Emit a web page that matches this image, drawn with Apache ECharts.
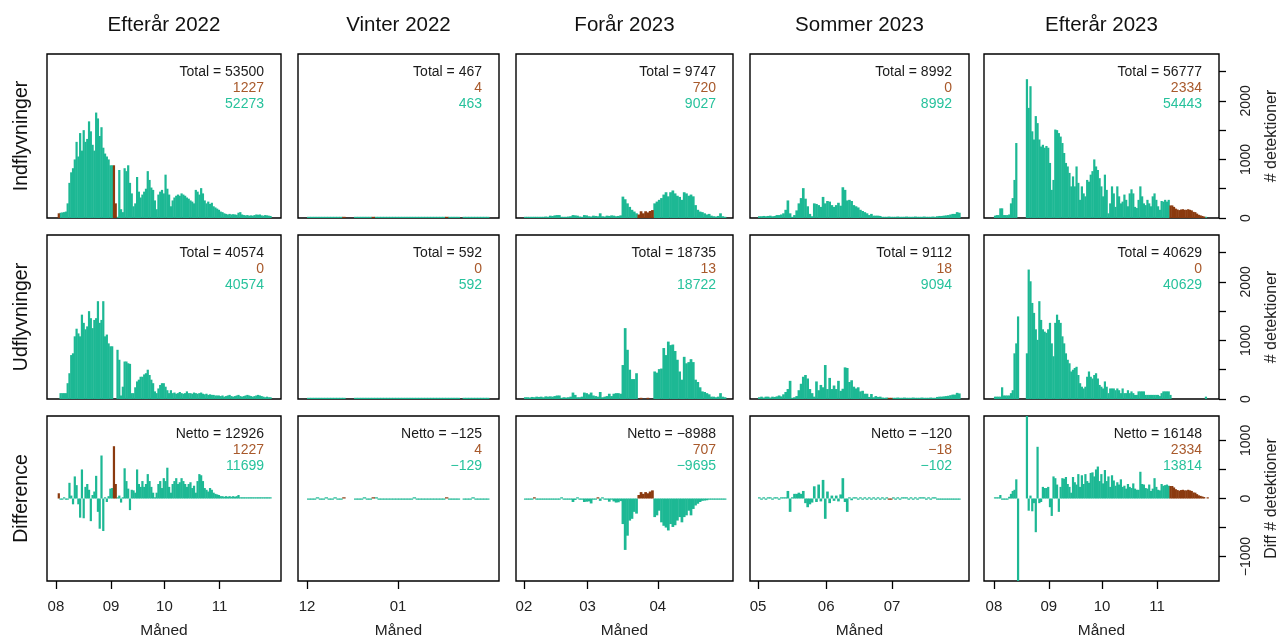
<!DOCTYPE html>
<html><head><meta charset="utf-8">
<script src="https://cdn.jsdelivr.net/npm/echarts@6/dist/echarts.min.js"></script>
<style>html,body{margin:0;padding:0;background:#fff}#c{width:1277px;height:639px}</style>
</head><body><div id="c"></div>
<script>
// ---------------- DATA ----------------
const colTitles = ['Efterår 2022','Vinter 2022','Forår 2023','Sommer 2023','Efterår 2023'];
const rowTitles = ['Indflyvninger','Udflyvninger','Difference'];
const monthTicks = [[0,31,61,92],[0,31],[0,28,59],[0,31,61],[0,31,61,92]];
const monthLabels = [['08','09','10','11'],['12','01'],['02','03','04'],['05','06','07'],['08','09','10','11']];
const countTicks = [0,500,1000,1500,2000,2500];
const countLabels = [0,1000,2000];
const diffTicks = [-1000,-500,0,500,1000];
const diffLabels = [-1000,0,1000];

const totalIn  = [53500, 467, 9747, 8992, 56777];
const brownIn  = [1227, 4, 720, 0, 2334];
const tealIn   = [52273, 463, 9027, 8992, 54443];
const totalOut = [40574, 592, 18735, 9112, 40629];
const brownOut = [0, 0, 13, 18, 0];
const tealOut  = [40574, 592, 18722, 9094, 40629];
const netto    = [12926, -125, -8988, -120, 16148];
const brownNet = [1227, 4, 707, -18, 2334];
const tealNet  = [11699, -129, -9695, -102, 13814];

// Panel 1: Efterår 2022 (1 Aug - 30 Nov), daily
const in1 = [null,null,90,95,100,110,250,600,780,850,
1000,1300,1050,1450,1150,1500,1300,1350,1650,1480,
1250,1150,1800,1700,1400,1550,1200,1100,1050,1000,
900,900,null,null,0,820,150,100,850,800,
900,600,420,200,250,700,450,350,400,450,
500,800,650,520,480,300,150,400,450,480,
420,740,500,400,200,300,350,380,400,380,
420,400,380,350,330,300,280,250,480,450,
400,510,420,300,250,280,240,260,200,180,
160,140,110,100,80,70,60,70,60,65,
60,55,90,100,60,50,45,50,40,45,
40,50,60,55,60,45,40,50,45,40,
35,null];
const in1b = [[1,80],[32,900],[33,250]];
const out1 = [null,null,100,100,100,100,270,440,750,780,
1070,1200,1120,1070,1440,1300,1190,1240,1500,1380,
1210,1350,1380,1670,1300,1350,1670,1070,1100,950,
900,900,null,null,840,670,60,210,640,640,
610,600,100,100,200,300,330,380,380,420,
440,500,410,330,270,130,100,180,240,270,
270,210,150,100,150,100,110,90,100,120,
100,90,100,130,100,100,90,110,100,90,
100,110,90,80,90,70,80,70,70,60,
60,60,50,60,40,50,60,70,50,40,
50,60,70,50,40,50,60,70,60,50,
40,50,60,70,60,50,40,30,40,30,
30,null];
const out1b = [];
const diff1 = [null,null,-10,-20,0,-10,-20,270,50,-100,
380,230,-100,-330,500,-340,200,250,150,-390,
60,120,390,-230,-520,740,-560,10,-60,40,
170,180,null,null,0,50,-70,20,520,300,
170,-200,150,140,100,500,250,200,300,200,
250,420,300,200,100,20,100,250,300,180,
350,300,530,200,100,250,300,350,250,280,
350,300,250,200,250,280,180,220,100,300,
420,400,300,180,150,120,180,150,100,80,
70,60,40,40,30,40,30,40,30,40,
30,40,60,20,20,10,20,10,20,10,
20,10,20,10,20,10,20,10,20,10,
10,null];
const diff1b = [[1,90],[32,900],[33,250]];

// Panel 2: Vinter 2022 (1 Dec - 31 Jan)
const in2 = [10,8,12,15,6,9,20,7,5,14,
10,8,null,null,null,null,9,12,7,15,
10,6,null,11,13,9,7,10,14,8,
6,9,12,10,7,5,8,11,9,6,
10,13,8,7,9,12,6,null,10,7,
9,11,null,8,6,9,12,7,10,8,
6,9];
const in2b = [[12,1],[22,2],[47,1]];
const out2 = [12,10,14,9,8,15,11,13,9,7,
16,10,12,null,null,null,11,14,9,13,
12,8,10,9,15,11,8,12,16,10,
9,12,13,11,10,8,9,14,10,8,
12,15,10,9,11,13,8,10,12,9,
10,13,null,10,8,11,14,9,12,10,
8,11];
const out2b = [];
const diff2 = [-2,-2,-2,6,-2,-6,9,-6,-4,7,
-6,-2,null,null,null,null,-2,-2,-2,2,
-2,-2,null,2,-2,-2,-1,-2,-2,-2,
-3,-3,-1,-1,-3,-3,0,-3,-1,-2,
-2,-2,-2,-2,-2,-1,-2,null,-2,-2,
-1,-2,null,-2,-2,-2,2,-2,-2,-2,
-2,-2];
const diff2b = [[12,1],[22,2],[47,1]];

// Panel 3: Forår 2023 (1 Feb - 30 Apr)
const in3 = [15,10,20,15,10,20,15,20,10,25,
20,40,35,45,50,50,20,15,20,25,
30,50,45,40,25,20,50,45,30,25,
40,35,30,80,30,25,40,35,45,40,
30,35,45,365,320,250,190,140,110,80,
null,null,null,null,null,null,null,250,280,310,
340,400,440,370,440,470,420,380,360,310,
440,420,380,400,370,220,140,110,100,80,
60,70,40,30,25,35,80,30,20];
const in3b = [[50,60],[51,115],[52,80],[53,115],[54,95],[55,120],[56,135]];
const out3 = [30,30,25,35,30,40,35,40,30,45,
40,45,40,50,60,60,20,30,25,30,
40,110,70,30,30,40,110,100,80,110,
60,50,40,120,30,40,50,90,50,90,
100,100,90,580,1210,840,500,340,340,440,
null,null,null,null,null,null,null,470,450,510,
520,870,750,980,920,930,820,670,470,330,
720,610,630,680,630,330,290,200,130,120,
100,80,40,40,30,40,100,40,30];
const out3b = [[51,6],[54,7]];
const diff3 = [-15,-20,-5,-20,null,-20,-20,-20,-20,-20,
-20,-5,-5,-5,-10,-10,0,-15,-5,-5,
-10,-60,-25,10,-5,-20,-60,-55,-50,-85,
-20,-15,null,-40,0,-15,-10,-55,-5,-50,
-70,-65,-45,-440,-885,-640,-380,-350,-230,-260,
null,null,null,null,null,null,null,-320,-290,-210,
-410,-470,-500,-550,-440,-490,-460,-380,-320,-410,
-320,-290,-210,-290,-180,-120,-90,-60,-40,-35,
-30,-20,-10,-10,-5,-10,-20,-10,-5];
const diff3b = [[4,5],[32,5],[50,60],[51,110],[52,80],[53,110],[54,90],[55,120],[56,140]];

// Panel 4: Sommer 2023 (1 May - 31 Jul)
const in4 = [30,30,35,30,35,40,30,35,50,50,
60,80,140,300,80,20,50,130,250,340,
510,330,200,70,30,250,240,220,190,360,
250,290,280,220,190,220,260,210,525,480,
300,310,290,220,200,180,140,120,100,80,
50,70,40,40,40,35,20,15,20,25,
20,15,20,25,20,15,20,25,20,15,
20,25,20,15,20,25,20,15,20,25,
20,30,35,35,40,45,50,60,70,70,
100,90];
const in4b = [];
const out4 = [30,40,25,40,40,25,40,35,45,60,
45,80,120,170,310,20,30,50,150,260,
380,410,350,170,100,40,300,150,240,200,
580,170,360,170,230,170,310,140,175,540,
530,290,320,210,180,200,130,140,90,90,
35,85,30,50,35,40,25,20,25,null,
null,20,20,25,20,20,25,20,15,20,
25,20,15,20,25,20,15,20,25,20,
20,35,40,40,45,50,55,65,75,75,
105,95];
const out4b = [[59,9],[60,9]];
const diff4 = [0,-5,5,-5,0,5,-5,0,5,-10,
5,0,20,130,-230,0,80,80,100,80,
130,-80,-150,-100,-70,210,-60,240,-50,320,
-350,120,-80,50,-40,50,-50,70,350,-60,
-230,20,-30,10,20,-20,10,-20,10,-10,
15,-15,10,-10,5,-5,10,-5,0,null,
null,5,-5,5,-5,5,0,5,-5,5,
-5,5,-5,5,0,5,-5,5,-5,5,
0,-5,-5,-5,-5,-5,-5,-5,-5,-5,
-5,-5];
const diff4b = [[59,-9],[60,-9]];

// Panel 5: Efterår 2023 (1 Aug - 30 Nov)
const in5 = [40,50,50,165,165,50,50,50,60,250,
340,650,1280,null,null,null,null,null,2370,1880,
2250,1480,1340,1740,1620,1340,1220,1250,1200,1230,
1200,940,480,650,1510,1500,1450,1390,1280,1110,
940,880,770,540,710,540,880,600,310,540,
420,370,650,620,740,800,1000,880,820,680,
540,370,740,480,80,250,540,420,190,540,
370,250,280,400,310,200,420,490,420,190,
170,310,540,370,250,220,310,250,200,370,
420,310,200,140,290,280,310,280,310,null,
null,null,null,null,null,null,null,null,null,null,
null,null,null,null,null,null,null,null,null,20,
null,null];
const in5b = [[99,215],[100,215],[101,190],[102,160],[103,145],[104,135],[105,145],[106,150],[107,140],[108,140],
[109,150],[110,140],[111,130],[112,105],[113,100],[114,75],[115,55],[116,45],[117,35],[118,25]];
const out5 = [40,40,40,40,200,60,60,60,60,100,
150,780,950,1410,null,null,null,null,780,2210,
2010,1640,1470,1190,1010,1670,1350,1190,1150,1130,
1190,1300,950,730,1300,1440,1350,1300,1070,950,
780,670,610,470,500,530,550,410,270,210,
180,210,380,470,380,350,410,440,350,240,
210,180,300,210,100,180,180,180,150,180,
150,100,180,100,100,150,100,130,100,70,
70,130,130,130,130,70,70,70,70,70,
70,70,70,50,100,130,130,130,130,70,
null,null,null,null,null,null,null,null,null,null,
null,null,null,null,null,null,null,null,null,40,
null,null];
const out5b = [];
const diff5 = [0,0,0,60,-20,-20,-20,-10,30,80,
130,150,330,-1600,null,null,null,null,1600,-210,
50,-220,-80,-580,890,-80,-60,200,180,180,
200,-150,-300,380,350,240,-230,200,350,340,
370,250,200,100,370,280,240,420,200,400,
250,420,300,270,440,450,380,500,550,300,
420,260,490,300,380,200,400,310,220,280,
240,330,200,220,170,250,200,180,260,170,
150,150,460,250,240,180,170,240,130,170,
350,200,150,140,250,220,230,240,220,null,
null,null,null,null,null,null,null,null,null,null,
null,null,null,null,null,null,null,null,null,null,
null,null];
const diff5b = [[99,215],[100,215],[101,190],[102,160],[103,145],[104,135],[105,145],[106,150],[107,140],[108,140],
[109,150],[110,140],[111,130],[112,105],[113,100],[114,75],[115,55],[116,45],[117,35],[118,25],[120,20]];

// ---------------- LAYOUT / STYLE ----------------
const colLeft  = [47, 298, 516, 750, 984];
const colRight = [281, 499, 733, 969, 1219];
const xMin = [-5, -3.07, -3.5, -3.64, -5.6];
const xMax = [126.5, 65.4, 92.1, 96.0, 127];
const rowTop = [54, 235, 416];
const rowBottom = [218, 399, 581];
const yMin = [0, 0, -1420];
const yMax = [2800, 2800, 1420];

const TEAL = '#1DB894', BROWN = '#8B3A0F';
const TEAL_T = '#27C29C', BROWN_T = '#A8592B', DARK = '#1a1a1a';
const FONT = "'Liberation Sans', Arial, Helvetica, sans-serif";

const panelData = [
  [[in1,in1b],[out1,out1b],[diff1,diff1b]],
  [[in2,in2b],[out2,out2b],[diff2,diff2b]],
  [[in3,in3b],[out3,out3b],[diff3,diff3b]],
  [[in4,in4b],[out4,out4b],[diff4,diff4b]],
  [[in5,in5b],[out5,out5b],[diff5,diff5b]]
];
const rowTexts = [
  [totalIn, brownIn, tealIn, 'Total = '],
  [totalOut, brownOut, tealOut, 'Total = '],
  [netto, brownNet, tealNet, 'Netto = ']
];

function fmt(v){ return v < 0 ? '\u2212' + Math.abs(v) : String(v); }
function toPairs(arr){ const r=[]; arr.forEach((v,i)=>{ if(v!==null && v!==undefined) r.push([i,v]); }); return r; }

function makeRender(color){
  return function(params, api){
    const d = api.value(0), v = api.value(1);
    const cs = params.coordSys;
    const a = api.coord([d, 0]);
    const b = api.coord([d + 1, v]);
    let y0 = a[1];
    let y1 = Math.max(cs.y, Math.min(cs.y + cs.height, b[1]));
    let top = Math.min(y0, y1), h = Math.abs(y1 - y0);
    if (h < 1.2) { h = 1.2; top = (v >= 0) ? y0 - 1.2 : y0; if (y0 >= cs.y + cs.height - 0.5) top = y0 - 1.2; }
    const w = Math.max(b[0] - a[0] + 0.45, 1);
    return {type:'rect', shape:{x:a[0], y:top, width:w, height:h}, style:{fill:color}};
  };
}

const grids=[], xAxes=[], yAxes=[], series=[], graphics=[];
for (let r=0;r<3;r++){
  for (let c=0;c<5;c++){
    const k = r*5+c;
    grids.push({left:colLeft[c], top:rowTop[r], width:colRight[c]-colLeft[c], height:rowBottom[r]-rowTop[r],
      show:true, borderColor:'#000', borderWidth:1.4, backgroundColor:'rgba(0,0,0,0)', containLabel:false});
    const bottom = (r===2);
    xAxes.push({type:'value', gridIndex:k, min:xMin[c], max:xMax[c], position:'bottom',
      axisLine:{show:false, onZero:false}, splitLine:{show:false},
      axisTick:{show:bottom, customValues:monthTicks[c], length:8, lineStyle:{color:'#000', width:1.3}},
      axisLabel:{show:bottom, customValues:monthTicks[c], margin:18, fontSize:15, color:'#222', fontFamily:FONT,
        formatter:(v)=>{ const i = monthTicks[c].indexOf(Math.round(v)); return i>=0 ? monthLabels[c][i] : ''; }}});
    const isRight = (c===4);
    const tks = r<2 ? countTicks : diffTicks;
    const lbs = r<2 ? countLabels : diffLabels;
    yAxes.push({type:'value', gridIndex:k, min:yMin[r], max:yMax[r], position:'right', show:isRight,
      axisLine:{show:false, onZero:false}, splitLine:{show:false},
      axisTick:{show:isRight, customValues:tks, length:7, lineStyle:{color:'#000', width:1.3}},
      axisLabel:{show:isRight, customValues:lbs, rotate:90, margin:20, fontSize:14, color:'#222', fontFamily:FONT,
        align:'center', verticalAlign:'top', formatter:(v)=>fmt(v)}});
    const [teal, brown] = panelData[c][r];
    series.push({type:'custom', xAxisIndex:k, yAxisIndex:k, data:toPairs(teal), renderItem:makeRender(TEAL), silent:true, animation:false});
    series.push({type:'custom', xAxisIndex:k, yAxisIndex:k, data:brown, renderItem:makeRender(BROWN), silent:true, animation:false});
    const [tot, br, te, pre] = rowTexts[r];
    const xr = colRight[c]-17;
    graphics.push({type:'text', x:xr, y:rowTop[r]+18, style:{text:pre+fmt(tot[c]), fill:DARK, font:'14px '+FONT, textAlign:'right', textVerticalAlign:'middle'}});
    graphics.push({type:'text', x:xr, y:rowTop[r]+34, style:{text:fmt(br[c]), fill:BROWN_T, font:'14px '+FONT, textAlign:'right', textVerticalAlign:'middle'}});
    graphics.push({type:'text', x:xr, y:rowTop[r]+50, style:{text:fmt(te[c]), fill:TEAL_T, font:'14px '+FONT, textAlign:'right', textVerticalAlign:'middle'}});
  }
}
for (let c=0;c<5;c++){
  const cx = (colLeft[c]+colRight[c])/2;
  graphics.push({type:'text', x:cx, y:25, style:{text:colTitles[c], fill:'#111', font:'20.5px '+FONT, textAlign:'center', textVerticalAlign:'middle'}});
  graphics.push({type:'text', x:cx, y:631, style:{text:'Måned', fill:'#222', font:'15.5px '+FONT, textAlign:'center', textVerticalAlign:'middle'}});
}
for (let r=0;r<3;r++){
  const cy = (rowTop[r]+rowBottom[r])/2;
  graphics.push({type:'text', x:22, y:cy, rotation:Math.PI/2, style:{text:rowTitles[r], fill:'#111', font:'19.5px '+FONT, textAlign:'center', textVerticalAlign:'middle'}});
  graphics.push({type:'text', x:1272, y:cy, rotation:Math.PI/2, style:{text: r<2 ? '# detektioner' : 'Diff # detektioner', fill:'#222', font:'16px '+FONT, textAlign:'center', textVerticalAlign:'middle'}});
}

const chart = echarts.init(document.getElementById('c'), null, {renderer:'canvas'});
chart.setOption({animation:false, backgroundColor:'#fff', grid:grids, xAxis:xAxes, yAxis:yAxes, series:series, graphic:graphics});
</script></body></html>
